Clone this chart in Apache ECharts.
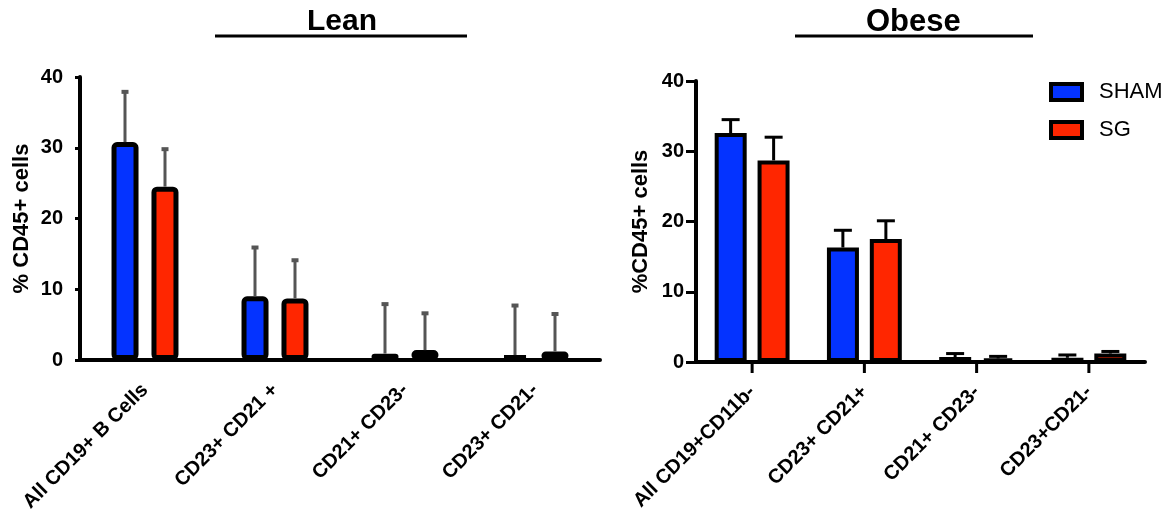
<!DOCTYPE html>
<html>
<head>
<meta charset="utf-8">
<script src="https://cdn.jsdelivr.net/npm/echarts@6/dist/echarts.min.js"></script>
<style>
  html, body { margin: 0; padding: 0; background: #fff; }
  #chart { width: 1175px; height: 515px; }
</style>
</head>
<body>
<div id="chart"></div>
<script>
var leanCategories = ['All CD19+ B Cells', 'CD23+ CD21 +', 'CD21+ CD23-', 'CD23+ CD21-'];
var obeseCategories = ['All CD19+CD11b-', 'CD23+ CD21+', 'CD21+ CD23-', 'CD23+CD21-'];

// mean and error (up only)
var leanSham = [30.8, 9.0, 0.9, 0.7];
var leanShamErr = [7.1, 6.9, 7.0, 7.0];
var leanSg = [24.5, 8.7, 1.4, 1.2];
var leanSgErr = [5.3, 5.4, 5.2, 5.3];
var obeseSham = [32.6, 16.3, 0.7, 0.6];
var obeseShamErr = [1.9, 2.45, 0.5, 0.4];
var obeseSg = [28.7, 17.5, 0.5, 1.2];
var obeseSgErr = [3.3, 2.6, 0.3, 0.3];

var yMin = 0, yMax = 40, yStep = 10;

var BLUE = '#0433ff';
var RED = '#ff2600';
var FONT = 'Liberation Sans, Arial, Helvetica, sans-serif';

function errData(vals, errs) {
  return vals.map(function (v, i) { return [i, v, errs[i]]; });
}

function errRender(offset, color, capW, capLw) {
  return function (params, api) {
    var i = api.value(0), v = api.value(1), e = api.value(2);
    var base = api.coord([i, v]);
    var top = api.coord([i, v + e]);
    var cx = base[0] + offset;
    return {
      type: 'group',
      children: [
        { type: 'line', shape: { x1: cx, y1: base[1], x2: cx, y2: top[1] }, style: { stroke: color, lineWidth: 3 } },
        { type: 'line', shape: { x1: cx - capW / 2, y1: top[1], x2: cx + capW / 2, y2: top[1] }, style: { stroke: color, lineWidth: capLw } }
      ]
    };
  };
}

function yAxisCfg(idx, name, gap, tickLen, margin) {
  return {
    type: 'value', gridIndex: idx, min: yMin, max: yMax, interval: yStep,
    name: name, nameLocation: 'middle', nameGap: gap, nameRotate: 90,
    nameTextStyle: { fontSize: 22, fontWeight: 'bold', color: '#000', fontFamily: FONT },
    axisLine: { show: true, lineStyle: { color: '#000', width: 4 } },
    axisTick: { show: true, length: tickLen, lineStyle: { color: '#000', width: 3 } },
    axisLabel: { fontSize: 20, fontWeight: 'bold', color: '#000', fontFamily: FONT, margin: margin },
    splitLine: { show: false }
  };
}

function xAxisCfg(idx, cats) {
  return {
    type: 'category', gridIndex: idx, data: cats,
    axisLine: { show: true, onZero: false, lineStyle: { color: '#000', width: 4 } },
    axisTick: { show: false },
    axisLabel: { rotate: 45, interval: 0, fontSize: 20, fontWeight: 'bold', color: '#000', fontFamily: FONT, margin: 27 }
  };
}

var chart = echarts.init(document.getElementById('chart'));

var headerLines = [
  { type: 'line', shape: { x1: 215, y1: 36, x2: 467, y2: 36 }, style: { stroke: '#000', lineWidth: 3 } },
  { type: 'line', shape: { x1: 795, y1: 36, x2: 1033, y2: 36 }, style: { stroke: '#000', lineWidth: 3 } }
];

var option = {
  backgroundColor: '#fff',
  animation: false,
  title: [
    { text: 'Lean', left: 307, top: 7, padding: 0, textStyle: { fontSize: 30, fontWeight: 'bold', color: '#000', fontFamily: FONT } },
    { text: 'Obese', left: 866, top: 7, padding: 0, textStyle: { fontSize: 31, fontWeight: 'bold', color: '#000', fontFamily: FONT } }
  ],
  graphic: headerLines,
  legend: {
    data: ['SHAM', 'SG'],
    orient: 'vertical',
    left: 1044, top: 76,
    icon: 'rect',
    itemWidth: 31, itemHeight: 16, itemGap: 16,
    itemStyle: { borderColor: '#000', borderWidth: 4 },
    textStyle: { fontSize: 22, color: '#000', fontFamily: FONT, lineHeight: 16, padding: [0, 0, 0, 12] },
    selectedMode: false
  },
  grid: [
    { left: 80, top: 77, width: 520, height: 283 },
    { left: 696, top: 81, width: 449, height: 281 }
  ],
  xAxis: [
    xAxisCfg(0, leanCategories),
    xAxisCfg(1, obeseCategories)
  ],
  yAxis: [
    yAxisCfg(0, '% CD45+ cells', 47, 5, 17),
    yAxisCfg(1, '%CD45+ cells', 44, 10, 12)
  ],
  series: [
    {
      name: 'SHAM', type: 'bar', xAxisIndex: 0, yAxisIndex: 0, data: leanSham,
      barWidth: 27, barGap: '48%',
      itemStyle: { color: BLUE, borderColor: '#000', borderWidth: 5, borderRadius: 3 }
    },
    {
      name: 'SG', type: 'bar', xAxisIndex: 0, yAxisIndex: 0, data: leanSg,
      barWidth: 27, barGap: '48%',
      itemStyle: { color: RED, borderColor: '#000', borderWidth: 5, borderRadius: 3 }
    },
    {
      name: 'SHAM', type: 'bar', xAxisIndex: 1, yAxisIndex: 1, data: obeseSham,
      barWidth: 32, barGap: '34%',
      itemStyle: { color: BLUE, borderColor: '#000', borderWidth: 4 }
    },
    {
      name: 'SG', type: 'bar', xAxisIndex: 1, yAxisIndex: 1, data: obeseSg,
      barWidth: 32, barGap: '34%',
      itemStyle: { color: RED, borderColor: '#000', borderWidth: 4 }
    },
    {
      name: 'lean sham err', type: 'custom', xAxisIndex: 0, yAxisIndex: 0, z: 3,
      encode: { x: 0, y: 1 }, data: errData(leanSham, leanShamErr),
      renderItem: errRender(-20, '#555', 7, 4)
    },
    {
      name: 'lean sg err', type: 'custom', xAxisIndex: 0, yAxisIndex: 0, z: 3,
      encode: { x: 0, y: 1 }, data: errData(leanSg, leanSgErr),
      renderItem: errRender(20, '#555', 7, 4)
    },
    {
      name: 'obese sham err', type: 'custom', xAxisIndex: 1, yAxisIndex: 1, z: 3,
      encode: { x: 0, y: 1 }, data: errData(obeseSham, obeseShamErr),
      renderItem: errRender(-21.5, '#000', 18, 3)
    },
    {
      name: 'obese sg err', type: 'custom', xAxisIndex: 1, yAxisIndex: 1, z: 3,
      encode: { x: 0, y: 1 }, data: errData(obeseSg, obeseSgErr),
      renderItem: errRender(21.5, '#000', 18, 3)
    }
  ]
};

chart.setOption(option);

// ticks under the obese categories, placed through the axis scale
var obeseTicks = obeseCategories.map(function (c, i) {
  var p = chart.convertToPixel({ gridIndex: 1 }, [i, yMin]);
  return { type: 'rect', z: 100, shape: { x: p[0] - 1.5, y: p[1], width: 3, height: 11 }, style: { fill: '#000' } };
});
chart.setOption({ graphic: headerLines.concat(obeseTicks) });
</script>
</body>
</html>
